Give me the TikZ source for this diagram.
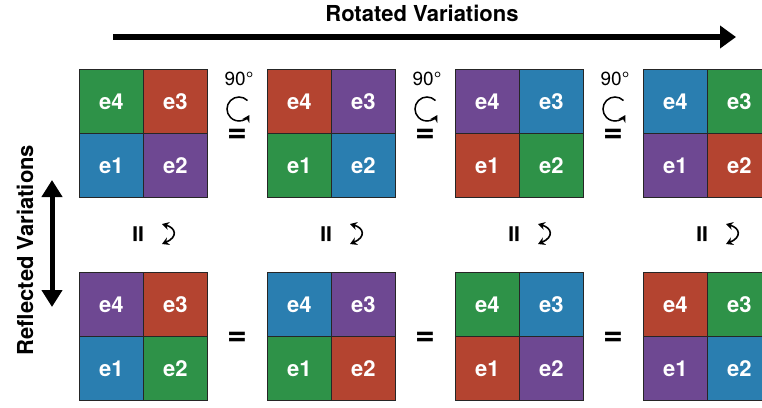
\documentclass[tikz,border=0pt]{standalone}
\usepackage{fontspec}
\setmainfont{TeX Gyre Heros}
\usetikzlibrary{arrows.meta}
\definecolor{cgreen}{RGB}{46,146,72}
\definecolor{cred}{RGB}{180,68,48}
\definecolor{cblue}{RGB}{42,126,176}
\definecolor{cpurple}{RGB}{110,72,146}
\tikzset{
  cell/.style={draw=black!85, line width=0.8pt, minimum size=64pt, inner sep=0pt,
    anchor=north west, text=white, font=\fontsize{22}{22}\selectfont\bfseries},
  eqsign/.style={font=\fontsize{34}{34}\selectfont\bfseries, inner sep=0pt},
  vsign/.style={font=\fontsize{32}{32}\selectfont\bfseries, inner sep=0pt, rotate=90},
  degtext/.style={font=\fontsize{19}{19}\selectfont, inner sep=0pt},
  headtext/.style={font=\fontsize{22}{22}\selectfont\bfseries, inner sep=0pt},
  bigarrow/.style={line width=6pt, -{Triangle[length=16pt,width=22pt]}},
  dblarrow/.style={line width=5pt, {Triangle[length=17pt,width=20pt]}-{Triangle[length=17pt,width=20pt]}},
  rotarrow/.style={line width=1.5pt, -{Stealth[length=7pt,width=8pt]}},
  reflarrow/.style={line width=1.6pt, {Stealth[length=7pt,width=8pt]}-{Stealth[length=7pt,width=8pt]}},
}
\newcommand\mkgrid[7]{%
  \node[cell, fill=#4] (#1-e4) at (#2,#3) {e4};
  \node[cell, fill=#5] (#1-e3) at (#2+64,#3) {e3};
  \node[cell, fill=#6] (#1-e1) at (#2,#3+64) {e1};
  \node[cell, fill=#7] (#1-e2) at (#2+64,#3+64) {e2};
}
\begin{document}
\begin{tikzpicture}[x=1pt,y=-1pt]
\useasboundingbox (0,0) rectangle (762,407);
\clip (0,0) rectangle (762,407);
% title and top arrow
\node[headtext] (title) at (422,13) {Rotated Variations};
\coordinate (ta) at (113,37);
\coordinate (tb) at (736,37);
\draw[bigarrow] (ta) -- (tb);
% left label and arrow
\node[headtext, rotate=90] (reftitle) at (25,250) {Reflected Variations};
\coordinate (va) at (52,180);
\coordinate (vb) at (52,307);
\draw[dblarrow] (va) -- (vb);
% top row
\mkgrid{t1}{79}{69}{cgreen}{cred}{cblue}{cpurple}
\mkgrid{t2}{267}{69}{cred}{cpurple}{cgreen}{cblue}
\mkgrid{t3}{455}{69}{cpurple}{cblue}{cred}{cgreen}
\mkgrid{t4}{643}{69}{cblue}{cgreen}{cpurple}{cred}
% bottom row
\mkgrid{b1}{79}{272}{cpurple}{cred}{cblue}{cgreen}
\mkgrid{b2}{267}{272}{cblue}{cpurple}{cgreen}{cred}
\mkgrid{b3}{455}{272}{cgreen}{cblue}{cred}{cpurple}
\mkgrid{b4}{643}{272}{cred}{cgreen}{cpurple}{cblue}
% rotation markers and equals
\foreach \i/\x in {1/239,2/427,3/615}{
  \node[degtext] (deg\i) at (\x,79) {90°};
  \coordinate (rot\i) at (\x,109);
  \draw[rotarrow] ([shift={(45:12pt)}]rot\i) arc[start angle=45, end angle=330, radius=12pt];
  \node[eqsign] (eqt\i) at (\x-2,136) {=};
  \node[eqsign] (eqb\i) at (\x-2,339) {=};
}
% reflection markers
\foreach \i/\c in {1/143,2/331,3/519,4/707}{
  \node[vsign] (par\i) at (\c-3,234) {=};
  \coordinate (fa\i) at (\c+19,224);
  \coordinate (fb\i) at (\c+19,244);
  \draw[reflarrow] (fa\i) .. controls +(14,4) and +(16,-7) .. (fb\i);
}
\end{tikzpicture}
\end{document}
